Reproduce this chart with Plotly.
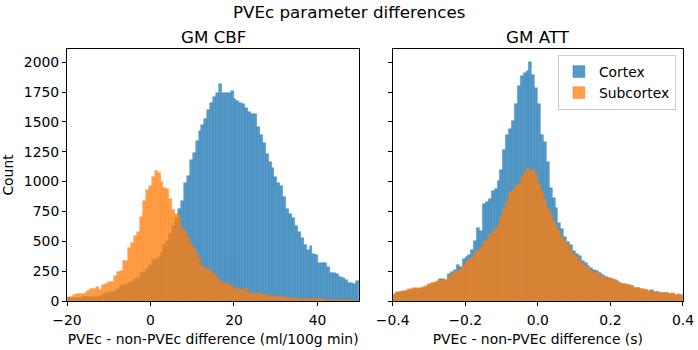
import numpy as np
import plotly.graph_objects as go

# ---------------- data (counts per bin) ----------------
cbf_bins = dict(start=-20.0, width=0.7)
att_bins = dict(start=-0.4, width=0.008)

cbf_cortex = [
    22, 22, 25, 25, 28, 31, 33, 36, 31, 33,
    36, 42, 50, 64, 70, 78, 80, 98, 124, 132,
    138, 150, 155, 185, 192, 235, 247, 266, 304, 340,
    350, 371, 400, 470, 505, 565, 627, 696, 770, 835,
    985, 1045, 1180, 1236, 1340, 1420, 1470, 1520, 1600, 1660,
    1710, 1738, 1815, 1745, 1738, 1740, 1755, 1695, 1676, 1660,
    1650, 1620, 1580, 1568, 1565, 1460, 1390, 1320, 1230, 1160,
    1110, 1040, 985, 965, 870, 770, 730, 695, 625, 575,
    525, 469, 427, 460, 393, 385, 315, 321, 315, 282,
    237, 232, 226, 204, 190, 176, 148, 153, 140, 170,
]
cbf_subcortex = [
    36, 36, 47, 56, 56, 56, 64, 86, 98, 103,
    114, 92, 131, 142, 160, 162, 210, 240, 255, 332,
    333, 445, 483, 543, 580, 700, 840, 930, 965, 1040,
    1090, 1070, 1000, 950, 940, 850, 765, 730, 715, 615,
    590, 535, 480, 440, 395, 350, 290, 274, 266, 250,
    225, 196, 173, 152, 148, 145, 120, 109, 105, 96,
    100, 105, 70, 66, 62, 64, 57, 50, 48, 43,
    40, 39, 38, 35, 31, 28, 26, 25, 22, 20,
    19, 18, 18, 17, 16, 15, 14, 14, 12, 12,
    11, 10, 9, 8, 8, 7, 6, 5, 4, 3,
]
att_cortex = [
    52, 70, 72, 78, 80, 92, 95, 100, 100, 102,
    108, 120, 135, 142, 150, 160, 184, 184, 180, 225,
    240, 260, 300, 285, 350, 370, 385, 430, 500, 610,
    585, 810, 830, 850, 920, 935, 1005, 1100, 1265, 1390,
    1440, 1510, 1650, 1800, 1880, 1910, 1930, 2005, 1890, 1780,
    1650, 1390, 1330, 1160, 950, 860, 776, 650, 600, 539,
    490, 469, 420, 395, 375, 335, 315, 290, 280, 262,
    251, 232, 215, 200, 196, 186, 178, 165, 153, 142,
    136, 130, 124, 110, 106, 100, 96, 94, 85, 88,
    76, 74, 70, 68, 66, 60, 62, 52, 54, 52,
]
att_subcortex = [
    59, 78, 78, 84, 86, 100, 100, 106, 106, 106,
    114, 128, 142, 148, 155, 165, 175, 172, 178, 204,
    225, 240, 255, 265, 300, 330, 345, 360, 400, 415,
    440, 490, 510, 565, 580, 605, 640, 700, 770, 830,
    910, 925, 960, 980, 1040, 1070, 1115, 1100, 1095, 1060,
    985, 920, 850, 780, 730, 670, 630, 585, 540, 500,
    480, 430, 395, 370, 335, 310, 290, 275, 255, 245,
    232, 218, 205, 200, 195, 188, 176, 162, 153, 142,
    140, 134, 126, 112, 106, 103, 98, 92, 84, 86,
    78, 75, 70, 70, 67, 59, 64, 50, 56, 50,
]

series_names = ["Cortex", "Subcortex"]
suptitle = "PVEc parameter differences"
panel_titles = ["GM CBF", "GM ATT"]
xlabels = ["PVEc - non-PVEc difference (ml/100g min)", "PVEc - non-PVEc difference (s)"]
ylabel = "Count"
cbf_ticks = [-20, 0, 20, 40]
att_ticks = [-0.4, -0.2, 0.0, 0.2, 0.4]
y_ticks = [0, 250, 500, 750, 1000, 1250, 1500, 1750, 2000]

# ---------------- styling ----------------
FONT = "DejaVu Sans"
FS = 13.9
FS_TITLE = 16.7
fills = ["rgba(31,119,180,0.75)", "rgba(255,127,14,0.75)"]
edges = ["rgba(31,119,180,0.55)", "rgba(255,127,14,0.55)"]
DOM_L = [0, 0.4744]
DOM_R = [0.5287, 1]


def centers(spec, n):
    return spec["start"] + spec["width"] * (np.arange(n) + 0.5)


fig = go.Figure()
panels = [
    (cbf_bins, [cbf_cortex, cbf_subcortex], "x", "y", False),
    (att_bins, [att_cortex, att_subcortex], "x2", "y2", True),
]
for spec, data, xa, ya, show in panels:
    for k, (name, vals) in enumerate(zip(series_names, data)):
        fig.add_trace(go.Bar(
            x=centers(spec, len(vals)), y=vals, width=spec["width"],
            name=name, showlegend=show,
            marker=dict(color=fills[k], line=dict(color=edges[k], width=0.6)),
            xaxis=xa, yaxis=ya,
        ))

axis_common = dict(
    showline=True, linecolor="black", linewidth=1, mirror=True,
    ticks="outside", ticklen=4, tickwidth=1, tickcolor="black",
    showgrid=False, zeroline=False, automargin=False,
    tickfont=dict(family=FONT, size=FS, color="black"),
)

fig.update_layout(
    width=698, height=350,
    margin=dict(l=67, r=15, t=49, b=49),
    paper_bgcolor="white", plot_bgcolor="white",
    barmode="overlay", bargap=0,
    font=dict(family=FONT, size=FS, color="black"),
    showlegend=True,
    legend=dict(
        x=0.9885, xanchor="right", y=0.976, yanchor="top",
        bgcolor="rgba(255,255,255,0.8)", bordercolor="#cccccc", borderwidth=1,
        font=dict(family=FONT, size=FS, color="black"),
    ),
    xaxis=dict(domain=DOM_L, range=[cbf_bins["start"], cbf_bins["start"] + 100 * cbf_bins["width"]],
               tickvals=cbf_ticks, anchor="y", ticklabelstandoff=2,
               title=dict(text=xlabels[0], font=dict(family=FONT, size=FS), standoff=7),
               **axis_common),
    xaxis2=dict(domain=DOM_R, range=[att_bins["start"], att_bins["start"] + 100 * att_bins["width"]],
                tickvals=att_ticks, tickformat=".1f", anchor="y2", ticklabelstandoff=2,
                title=dict(text=xlabels[1], font=dict(family=FONT, size=FS), standoff=7),
                **axis_common),
    yaxis=dict(range=[0, 2110], tickvals=y_ticks, tickformat="d", anchor="x",
               title=dict(text=ylabel, font=dict(family=FONT, size=FS), standoff=9),
               **axis_common),
    yaxis2=dict(range=[0, 2110], tickvals=y_ticks, matches="y", anchor="x2",
                showticklabels=False, **axis_common),
)

fig.add_annotation(text=suptitle, xref="paper", yref="paper",
                   x=(349 - 67) / 616, y=(301 - 12) / 252, xanchor="center", yanchor="middle",
                   showarrow=False, font=dict(family=FONT, size=FS_TITLE, color="black"))
for title, dom in zip(panel_titles, [DOM_L, DOM_R]):
    fig.add_annotation(text=title, xref="paper", yref="paper",
                       x=(dom[0] + dom[1]) / 2, y=(301 - 37) / 252,
                       xanchor="center", yanchor="middle", showarrow=False,
                       font=dict(family=FONT, size=FS_TITLE, color="black"))

fig.write_html(
    "out.html",
    config={"displayModeBar": False},
    post_script="document.body.style.margin='0';document.body.style.overflow='hidden';",
)
